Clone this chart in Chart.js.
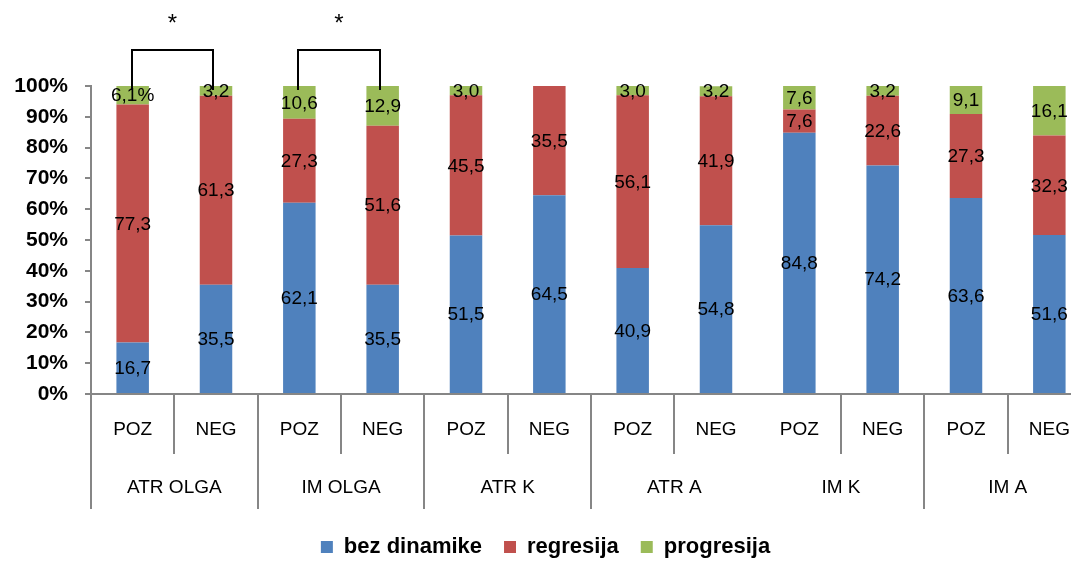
<!DOCTYPE html>
<html>
<head>
<meta charset="utf-8">
<script src="https://cdn.jsdelivr.net/npm/chart.js@4/dist/chart.umd.min.js"></script>
<style>
  html, body { margin:0; padding:0; background:#fff; overflow:hidden; }
  #wrap { width:1095px; height:568px; }
</style>
</head>
<body>
<div id="wrap"><canvas id="c" width="1095" height="568"></canvas></div>
<script>
// chart values (percent)
const subLabels = ['POZ','NEG','POZ','NEG','POZ','NEG','POZ','NEG','POZ','NEG','POZ','NEG'];
const groups = ['ATR OLGA','IM OLGA','ATR K','ATR A','IM K','IM A'];
const bezDinamike = [16.7, 35.5, 62.1, 35.5, 51.5, 64.5, 40.9, 54.8, 84.8, 74.2, 63.6, 51.6];
const regresija   = [77.3, 61.3, 27.3, 51.6, 45.5, 35.5, 56.1, 41.9,  7.6, 22.6, 27.3, 32.3];
const progresija  = [ 6.1,  3.2, 10.6, 12.9,  3.0,  0.0,  3.0,  3.2,  7.6,  3.2,  9.1, 16.1];
const seriesNames = ['bez dinamike','regresija','progresija'];
const yTicks = [0,10,20,30,40,50,60,70,80,90,100];
const sigPairs = [[0,1],[2,3]];   // brackets marked with *
const percentMarked = [[2,0]];    // label printed with % sign

const AXIS = '#868686';
const FONT = 'Arial, "Liberation Sans", sans-serif';

function fmt(v){ return v.toFixed(1).replace('.', ','); }

// numbers centred in each segment
const segLabels = {
  id:'segLabels',
  afterDatasetsDraw(chart){
    const ctx = chart.ctx;
    ctx.save();
    ctx.font = '19px ' + FONT;
    ctx.fillStyle = '#000';
    ctx.textAlign = 'center'; ctx.textBaseline = 'middle';
    chart.data.datasets.forEach((ds, di)=>{
      chart.getDatasetMeta(di).data.forEach((bar, i)=>{
        const v = ds.data[i];
        if(!v) return;
        let t = fmt(v);
        if(percentMarked.some(p=>p[0]===di && p[1]===i)) t += '%';
        ctx.fillText(t, bar.x, (bar.y + bar.base)/2 + 1);
      });
    });
    ctx.restore();
  }
};

// two-level category axis + separators
const groupAxis = {
  id:'groupAxis',
  afterDraw(chart){
    const ctx = chart.ctx, xs = chart.scales.x, area = chart.chartArea;
    const step = xs.getPixelForValue(1) - xs.getPixelForValue(0);
    ctx.save();
    ctx.strokeStyle = AXIS; ctx.lineWidth = 2;
    const line = (x, y2)=>{ ctx.beginPath(); ctx.moveTo(x, area.bottom); ctx.lineTo(x, y2); ctx.stroke(); };
    for(let i=0;i<=subLabels.length;i++){
      const x = Math.round(xs.getPixelForValue(i) - step/2);
      if(i%2===0){ if(i!==8) line(x, area.bottom+115); }
      else line(x, area.bottom+60);
    }
    ctx.fillStyle = '#000';
    ctx.font = '19px ' + FONT;
    ctx.textAlign = 'center'; ctx.textBaseline = 'middle';
    subLabels.forEach((s,i)=> ctx.fillText(s, xs.getPixelForValue(i), area.bottom+36));
    groups.forEach((g,k)=>{
      const x = (xs.getPixelForValue(2*k) + xs.getPixelForValue(2*k+1))/2;
      ctx.fillText(g, x, area.bottom+94);
    });
    ctx.restore();
  }
};

// significance brackets
const brackets = {
  id:'brackets',
  afterDraw(chart){
    const ctx = chart.ctx, xs = chart.scales.x, ys = chart.scales.y;
    const top = ys.getPixelForValue(100);
    ctx.save();
    ctx.strokeStyle = '#000'; ctx.lineWidth = 2;
    sigPairs.forEach(([a,b])=>{
      const x1 = Math.round(xs.getPixelForValue(a)) - 1, x2 = Math.round(xs.getPixelForValue(b)) - 3;
      ctx.beginPath();
      ctx.moveTo(x1, top+4); ctx.lineTo(x1, top-36); ctx.lineTo(x2, top-36); ctx.lineTo(x2, top+4);
      ctx.stroke();
      ctx.fillStyle = '#000';
      ctx.font = '24px ' + FONT;
      ctx.textAlign = 'center'; ctx.textBaseline = 'middle';
      ctx.fillText('*', (x1+x2)/2, top-62);
    });
    ctx.restore();
  }
};

new Chart(document.getElementById('c'), {
  type:'bar',
  data:{
    labels: subLabels,
    datasets:[
      {label:seriesNames[0], data:bezDinamike, backgroundColor:'#4F81BD'},
      {label:seriesNames[1], data:regresija,   backgroundColor:'#C0504D'},
      {label:seriesNames[2], data:progresija,  backgroundColor:'#9BBB59'}
    ]
  },
  options:{
    responsive:false,
    animation:false,
    datasets:{ bar:{ barPercentage:0.39, categoryPercentage:1 } },
    layout:{ padding:{ top:86, right:4, left:0, bottom:0 } },
    plugins:{
      tooltip:{ enabled:false },
      legend:{
        position:'bottom',
        labels:{
          boxWidth:12, boxHeight:12, padding:22,
          color:'#000',
          font:{ family:FONT, size:22, weight:'bold' }
        }
      }
    },
    scales:{
      x:{
        stacked:true,
        ticks:{ display:false },
        grid:{ display:false },
        border:{ color:AXIS, width:2 },
        afterFit(scale){ scale.height = 120; }
      },
      y:{
        stacked:true, min:0, max:100,
        afterBuildTicks(scale){ scale.ticks = yTicks.map(v=>({value:v})); },
        ticks:{
          padding:17, color:'#000',
          font:{ family:FONT, size:21, weight:'bold' },
          callback:v=> v + '%'
        },
        grid:{ drawOnChartArea:false, drawTicks:true, tickLength:6, color:AXIS, lineWidth:2 },
        border:{ color:AXIS, width:2 },
        afterFit(scale){ scale.width = 91; }
      }
    }
  },
  plugins:[segLabels, groupAxis, brackets]
});
</script>
</body>
</html>
